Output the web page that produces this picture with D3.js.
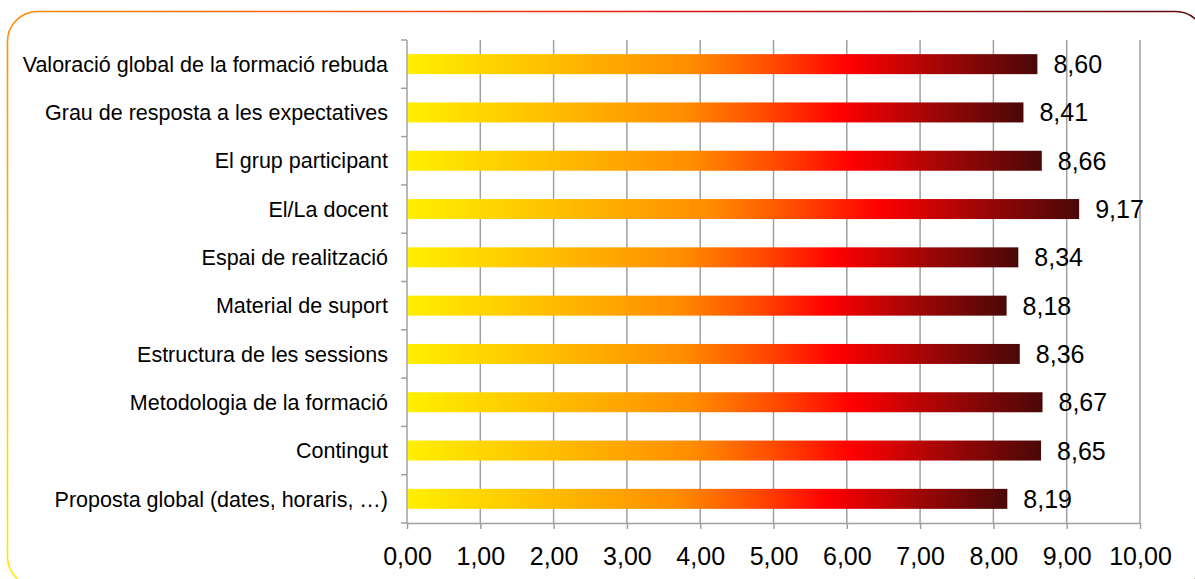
<!DOCTYPE html>
<html>
<head>
<meta charset="utf-8">
<script src="https://cdn.jsdelivr.net/npm/d3@7"></script>
<style>
  body { margin: 0; background: #fff; overflow: hidden; }
  svg { display: block; font-family: "Liberation Sans", Arial, sans-serif; }
</style>
</head>
<body>
<div id="chart"></div>
<script>
// categories from top to bottom
const categories = [
  "Valoració global de la formació rebuda",
  "Grau de resposta a les expectatives",
  "El grup participant",
  "El/La docent",
  "Espai de realització",
  "Material de suport",
  "Estructura de les sessions",
  "Metodologia de la formació",
  "Contingut",
  "Proposta global (dates, horaris, …)"
];
const values = [8.60, 8.41, 8.66, 9.17, 8.34, 8.18, 8.36, 8.67, 8.65, 8.19];
const xTicks = [0, 1, 2, 3, 4, 5, 6, 7, 8, 9, 10];

const W = 1195, H = 579;
const margin = { top: 40, right: 55, bottom: 56, left: 407 };
const width = W - margin.left - margin.right,
  height = H - margin.top - margin.bottom;

const fmt = (v) => d3.format(".2f")(v).replace(".", ",");

const svg = d3.select("#chart").append("svg")
  .attr("width", W)
  .attr("height", H);

const defs = svg.append("defs");

// border gradient, yellow bottom-left to dark red top-right
const borderGrad = defs.append("linearGradient")
  .attr("id", "borderGrad")
  .attr("gradientUnits", "userSpaceOnUse")
  .attr("x1", 0).attr("y1", 580)
  .attr("x2", 1200).attr("y2", 0);
[["0%", "#ffee00"], ["10%", "#ffbb00"], ["19%", "#ff8c00"], ["45%", "#f25212"],
 ["64%", "#e81010"], ["82%", "#9a0a0a"], ["100%", "#5a0808"]]
  .forEach(([o, c]) => borderGrad.append("stop").attr("offset", o).attr("stop-color", c));

// bar gradient, spans each bar
const barGrad = defs.append("linearGradient")
  .attr("id", "barGrad")
  .attr("x1", "0%").attr("y1", "0%")
  .attr("x2", "100%").attr("y2", "0%");
[["0%", "#fff000"], ["22%", "#ffc000"], ["45%", "#ff8c00"], ["58%", "#ff4a00"],
 ["70%", "#ff0000"], ["85%", "#a00606"], ["100%", "#4a0808"]]
  .forEach(([o, c]) => barGrad.append("stop").attr("offset", o).attr("stop-color", c));

svg.append("rect")
  .attr("x", 7.5).attr("y", 11.5)
  .attr("width", 1198).attr("height", 575)
  .attr("rx", 30).attr("ry", 30)
  .attr("fill", "#fff")
  .attr("stroke", "url(#borderGrad)")
  .attr("stroke-width", 1.6);

const g = svg.append("g")
  .attr("transform", "translate(" + margin.left + "," + margin.top + ")");

const xScale = d3.scaleLinear().domain([0, 10]).range([0, width]);
const yScale = d3.scaleBand().domain(categories).range([0, height]);

// vertical gridlines
g.append("g")
  .selectAll("line")
  .data(xTicks.slice(1))
  .enter()
  .append("line")
  .attr("x1", (d) => xScale(d)).attr("x2", (d) => xScale(d))
  .attr("y1", 0).attr("y2", height)
  .attr("stroke", "#a0a0a0")
  .attr("stroke-width", 1.5);

// x axis
const xAxis = g.append("g")
  .attr("transform", "translate(0," + height + ")")
  .call(d3.axisBottom(xScale).tickValues(xTicks).tickFormat(fmt).tickSize(6).tickSizeOuter(0));
xAxis.select(".domain").attr("stroke", "#a0a0a0").attr("stroke-width", 1.5);
xAxis.selectAll(".tick line").attr("stroke", "#a0a0a0").attr("stroke-width", 1.5);
xAxis.selectAll(".tick text")
  .attr("y", 42)
  .attr("dy", "0")
  .style("font-family", "'Liberation Sans', Arial, sans-serif")
  .style("font-size", "25px")
  .attr("fill", "#000");

// y axis: line and ticks at category boundaries
g.append("line")
  .attr("x1", 0).attr("x2", 0)
  .attr("y1", 0).attr("y2", height)
  .attr("stroke", "#a0a0a0").attr("stroke-width", 1.5);
const bounds = categories.map((c) => yScale(c)).concat([height]);
g.append("g")
  .selectAll("line")
  .data(bounds)
  .enter()
  .append("line")
  .attr("x1", -6).attr("x2", 0)
  .attr("y1", (d) => d).attr("y2", (d) => d)
  .attr("stroke", "#a0a0a0").attr("stroke-width", 1.5);

// category labels
g.append("g")
  .selectAll("text")
  .data(categories)
  .enter()
  .append("text")
  .attr("x", -19)
  .attr("y", (d) => yScale(d) + yScale.bandwidth() / 2)
  .attr("dy", "0.36em")
  .attr("text-anchor", "end")
  .style("font-size", "21.5px")
  .attr("fill", "#000")
  .text((d) => d);

// bars
const barH = 20;
g.append("g")
  .selectAll("rect")
  .data(values)
  .enter()
  .append("rect")
  .attr("x", xScale(0) + 1)
  .attr("y", (d, i) => yScale(categories[i]) + yScale.bandwidth() / 2 - barH / 2)
  .attr("width", (d) => xScale(d) - xScale(0) - 1)
  .attr("height", barH)
  .attr("fill", "url(#barGrad)");

// value labels
g.append("g")
  .selectAll("text")
  .data(values)
  .enter()
  .append("text")
  .attr("x", (d) => xScale(d) + 16)
  .attr("y", (d, i) => yScale(categories[i]) + yScale.bandwidth() / 2)
  .attr("dy", "0.36em")
  .style("font-size", "25px")
  .attr("fill", "#000")
  .text((d) => fmt(d));
</script>
</body>
</html>
